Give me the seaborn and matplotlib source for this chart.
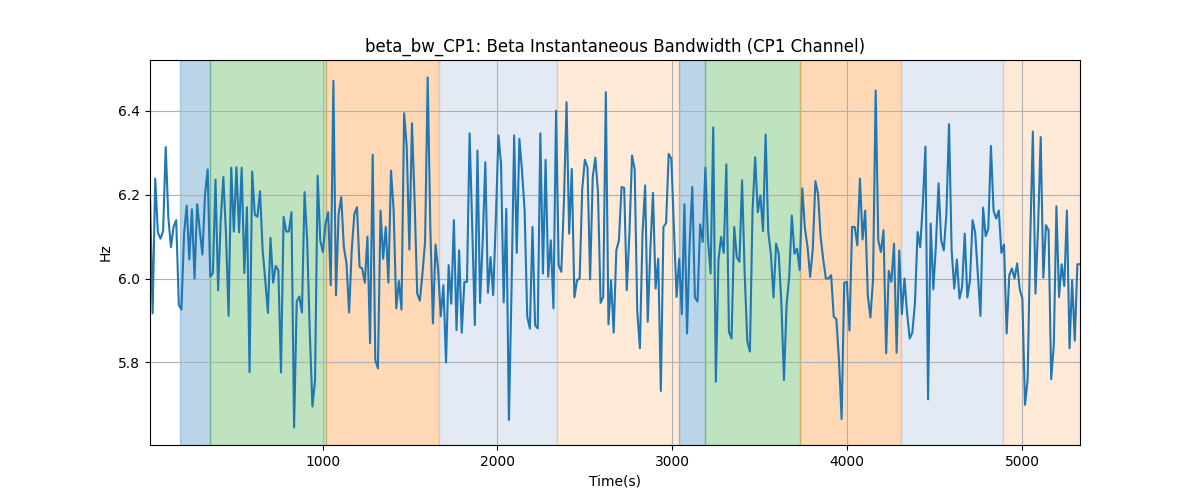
import numpy as np
import pandas as pd
import matplotlib
matplotlib.use("Agg")
import matplotlib.pyplot as plt
import seaborn as sns


# Beta instantaneous bandwidth (Hz) in six chunks
bw_part1 = [6.20, 5.917, 6.238, 6.11, 6.095, 6.113, 6.313, 6.146, 6.075, 6.123,
            6.139, 5.937, 5.926, 6.107, 6.174, 6.045, 6.165, 6.0, 6.177, 6.115,
            6.057, 6.20, 6.26, 6.004, 6.013, 6.236, 5.972, 6.139, 6.242, 6.107,
            5.911, 6.264, 6.112, 6.265, 6.11, 6.264, 6.013, 6.17, 5.777, 6.255,
            6.152, 6.147, 6.208, 6.067, 5.996, 5.918, 6.097, 5.99, 6.03, 6.02,
            5.776, 6.147, 6.112, 6.112, 6.158, 5.645, 5.945, 5.957, 5.919, 6.206]
bw_part2 = [6.09, 5.87, 5.695, 5.758, 6.245, 6.09, 6.063, 6.13, 6.158, 5.984,
            6.471, 5.96, 6.154, 6.194, 6.075, 6.036, 5.919, 6.067, 6.154, 6.17,
            6.028, 6.024, 5.99, 6.1, 5.846, 6.295, 5.806, 5.786, 6.162, 6.047,
            6.123, 5.99, 6.257, 6.162, 5.929, 5.994, 5.926, 6.394, 6.313, 6.069,
            6.37, 6.186, 5.964, 5.947, 6.012, 6.087, 6.479, 6.123, 5.893, 6.081,
            6.02, 5.91, 5.984, 5.8, 6.032, 5.94, 6.139, 5.877]
bw_part3 = [6.067, 5.871, 5.992, 5.992, 6.346, 6.123, 5.889, 6.305, 5.942, 6.091,
            6.277, 5.966, 6.051, 5.96, 6.139, 6.341, 6.273, 5.943, 6.166, 5.663,
            5.972, 6.341, 6.061, 6.333, 6.257, 6.162, 5.909, 5.881, 6.123, 5.889,
            5.881, 6.346, 6.012, 6.283, 6.004, 6.091, 5.929, 6.4, 6.032, 6.016,
            6.182, 6.42, 6.107, 6.261, 5.955, 5.996, 6.0, 6.214, 6.283, 6.265,
            5.998, 6.242, 6.288, 6.206, 5.942, 5.956, 6.444, 5.891, 5.996]
bw_part4 = [5.871, 6.067, 6.091, 6.218, 6.216, 5.972, 6.107, 6.293, 6.261, 5.921,
            5.834, 6.107, 6.222, 5.897, 6.071, 6.204, 5.976, 6.047, 5.732, 6.123,
            6.132, 6.297, 6.285, 6.123, 5.956, 6.047, 5.915, 6.177, 5.869, 6.087,
            6.218, 5.955, 5.945, 6.129, 6.087, 6.264, 6.091, 6.012, 6.36, 5.754,
            6.044, 6.099, 6.061, 6.272, 5.873, 5.857, 6.123, 6.051, 6.04, 6.234,
            6.012, 5.85, 5.826, 6.162, 6.289, 6.158, 6.198, 6.113, 6.343]
bw_part5 = [6.111, 6.059, 5.955, 6.083, 6.059, 5.941, 5.758, 5.937, 6.004, 6.15,
            6.059, 6.071, 6.02, 6.215, 6.119, 6.075, 6.004, 6.071, 6.232, 6.202,
            6.099, 6.044, 6.0, 6.0, 6.008, 5.909, 5.903, 5.806, 5.665, 5.99,
            5.992, 5.876, 6.123, 6.123, 6.079, 6.238, 6.093, 6.162, 5.96, 5.907,
            5.998, 6.448, 6.091, 6.063, 6.115, 5.822, 6.018, 5.992, 6.083, 5.823,
            6.067, 5.915, 6.0, 5.917, 5.857, 5.871, 5.942, 6.111]
bw_part6 = [6.075, 6.178, 6.314, 5.712, 6.131, 5.974, 6.079, 6.227, 6.091, 6.067,
            6.154, 6.368, 6.067, 5.976, 6.045, 5.952, 5.98, 6.107, 5.955, 5.996,
            6.139, 6.109, 6.012, 5.911, 6.169, 6.101, 6.119, 6.316, 6.162, 6.143,
            6.162, 6.061, 6.081, 5.869, 6.008, 6.024, 6.0, 6.036, 5.974, 5.952,
            5.699, 5.758, 6.091, 6.35, 5.964, 6.123, 6.337, 6.002, 6.127, 6.115,
            5.76, 5.842, 6.172, 5.956, 6.034, 5.982, 6.162, 5.834, 5.996, 5.852,
            6.034, 6.034]

# sampling of the time axis (s)
t_start = 13.0
t_step = 14.98

# shaded segments (s)
seg_starts = [183, 357, 1021, 1664, 2338, 3037, 3185, 3729, 4310, 4892]
seg_ends = [357, 1021, 1664, 2338, 3037, 3185, 3729, 4310, 4892, 5400]
seg_kinds = ["blue", "green", "orange", "lightblue", "lightorange",
             "blue", "green", "orange", "lightblue", "lightorange"]

kind_style = {
    "blue": ("C0", 0.3),
    "green": ("C2", 0.3),
    "orange": ("C1", 0.3),
    "lightblue": ("lightsteelblue", 0.35),
    "lightorange": ("C1", 0.16),
}

bw = np.concatenate([bw_part1, bw_part2, bw_part3, bw_part4, bw_part5, bw_part6])
df = pd.DataFrame({"time": t_start + t_step * np.arange(len(bw)), "bw": bw})

fig, ax = plt.subplots(figsize=(12, 5))

for start, end, kind in zip(seg_starts, seg_ends, seg_kinds):
    color, alpha = kind_style[kind]
    ax.axvspan(start, end, color=color, alpha=alpha)

sns.lineplot(data=df, x="time", y="bw", ax=ax, color="C0", linewidth=1.5)

ax.set_xlim(df["time"].min(), df["time"].max())
ax.set_title("beta_bw_CP1: Beta Instantaneous Bandwidth (CP1 Channel)")
ax.set_xlabel("Time(s)")
ax.set_ylabel("Hz")
ax.grid(True)

plt.savefig("out.png", dpi=100)
